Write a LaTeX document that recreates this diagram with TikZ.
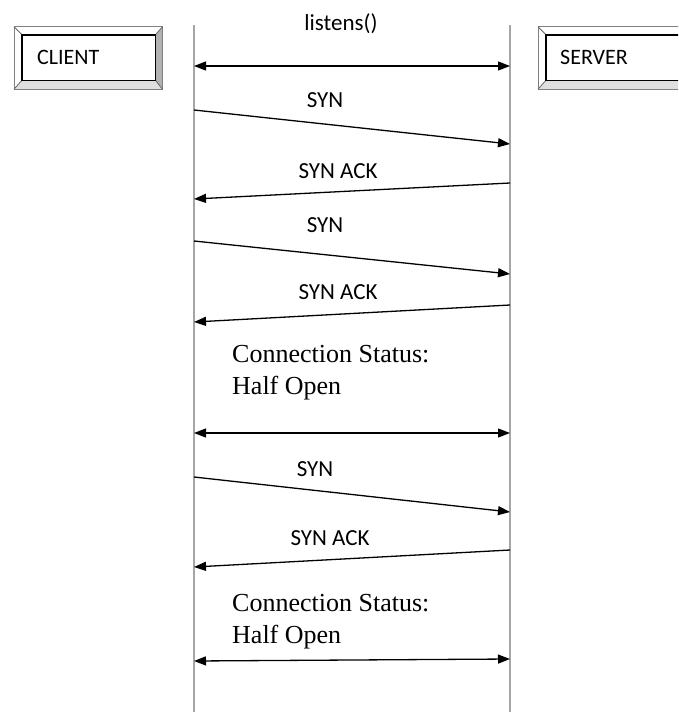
\documentclass[tikz,border=0pt]{standalone}
\usepackage{fontspec}
\setmainfont{Liberation Serif}
\newfontfamily\labelfont{Carlito}
\usepackage{tikz}
\usetikzlibrary{positioning, arrows.meta, calc}

% bevelled frame round a box node
\newcommand{\bevelframe}[1]{%
  \fill[gray!25] (#1.south west) -- ([shift={(-8,9)}]#1.south west) -- ([shift={(7,9)}]#1.south east) -- (#1.south east) -- cycle;
  \fill[gray!60] (#1.north east) -- ([shift={(7,-8)}]#1.north east) -- ([shift={(7,9)}]#1.south east) -- (#1.south east) -- cycle;
  \draw[gray, line width=1pt] ([shift={(-8,-8)}]#1.north west) rectangle ([shift={(7,9)}]#1.south east);
  \draw[gray!80!black, line width=0.8pt] (#1.north west) -- ++(-8,-8) (#1.north east) -- ++(7,-8)
    (#1.south west) -- ++(-8,9) (#1.south east) -- ++(7,9);
  \draw[black, line width=1.4pt] (#1.north west) rectangle (#1.south east);
}

\begin{document}
\begin{tikzpicture}[x=1pt, y=-1pt,
    box/.style={anchor=west, minimum height=45pt, inner xsep=15pt, align=left, font=\labelfont\fontsize{22}{26}\selectfont},
    msgtext/.style={font=\labelfont\fontsize{23}{27}\selectfont},
    status/.style={anchor=north west, align=left, inner sep=0pt, font=\fontsize{26}{32}\selectfont},
    lifeline/.style={gray!70, line width=1.5pt},
    msg/.style={-{Triangle[length=12pt, width=9pt]}, line width=1.3pt},
    both/.style={{Triangle[length=12pt, width=9pt]}-{Triangle[length=12pt, width=9pt]}, line width=1.3pt}]
    \useasboundingbox (0,0) rectangle (678,712);
    \clip (0,0) rectangle (678,712);

    % Actors
    \node[box, text width=103pt] (client) at (22,57.5) {CLIENT};
    \node[box, text width=130pt, inner xsep=14pt] (server) at (546,57.5) {SERVER};
    \bevelframe{client}
    \bevelframe{server}

    % Lifelines
    \coordinate (ctop) at (194,25);
    \coordinate (cbot) at (194,712);
    \coordinate (stop) at (510,25);
    \coordinate (sbot) at (510,712);
    \draw[lifeline] (ctop) -- (cbot);
    \draw[lifeline] (stop) -- (sbot);

    % Message end points
    \coordinate (c0) at (194,66);  \coordinate (s0) at (510,66);
    \coordinate (c1) at (194,110); \coordinate (s1) at (510,144);
    \coordinate (s2) at (510,183); \coordinate (c2) at (194,199);
    \coordinate (c3) at (194,241); \coordinate (s3) at (510,274);
    \coordinate (s4) at (510,305); \coordinate (c4) at (194,322);
    \coordinate (c5) at (194,433); \coordinate (s5) at (510,433);
    \coordinate (c6) at (194,477); \coordinate (s6) at (510,512);
    \coordinate (s7) at (510,550); \coordinate (c7) at (194,567);
    \coordinate (c8) at (194,661); \coordinate (s8) at (510,659);

    % Labels
    \node[msgtext] (listen) at (341,24) {listens()};
    \node[msgtext] (syna) at (325,100) {SYN};
    \node[msgtext] (acka) at (338,171) {SYN ACK};
    \node[msgtext] (synb) at (325,225) {SYN};
    \node[msgtext] (ackb) at (338,292) {SYN ACK};
    \node[status] (halfa) at (232,345) {Connection Status:\\Half Open};
    \node[msgtext] (sync) at (315,469) {SYN};
    \node[msgtext] (ackc) at (330,538) {SYN ACK};
    \node[status] (halfb) at (232,594) {Connection Status:\\Half Open};

    % Messages
    \draw[both] (c0) -- (s0);
    \draw[msg] (c1) -- (s1);
    \draw[msg] (s2) -- (c2);
    \draw[msg] (c3) -- (s3);
    \draw[msg] (s4) -- (c4);
    \draw[both] (c5) -- (s5);
    \draw[msg] (c6) -- (s6);
    \draw[msg] (s7) -- (c7);
    \draw[both] (c8) -- (s8);
\end{tikzpicture}
\end{document}
